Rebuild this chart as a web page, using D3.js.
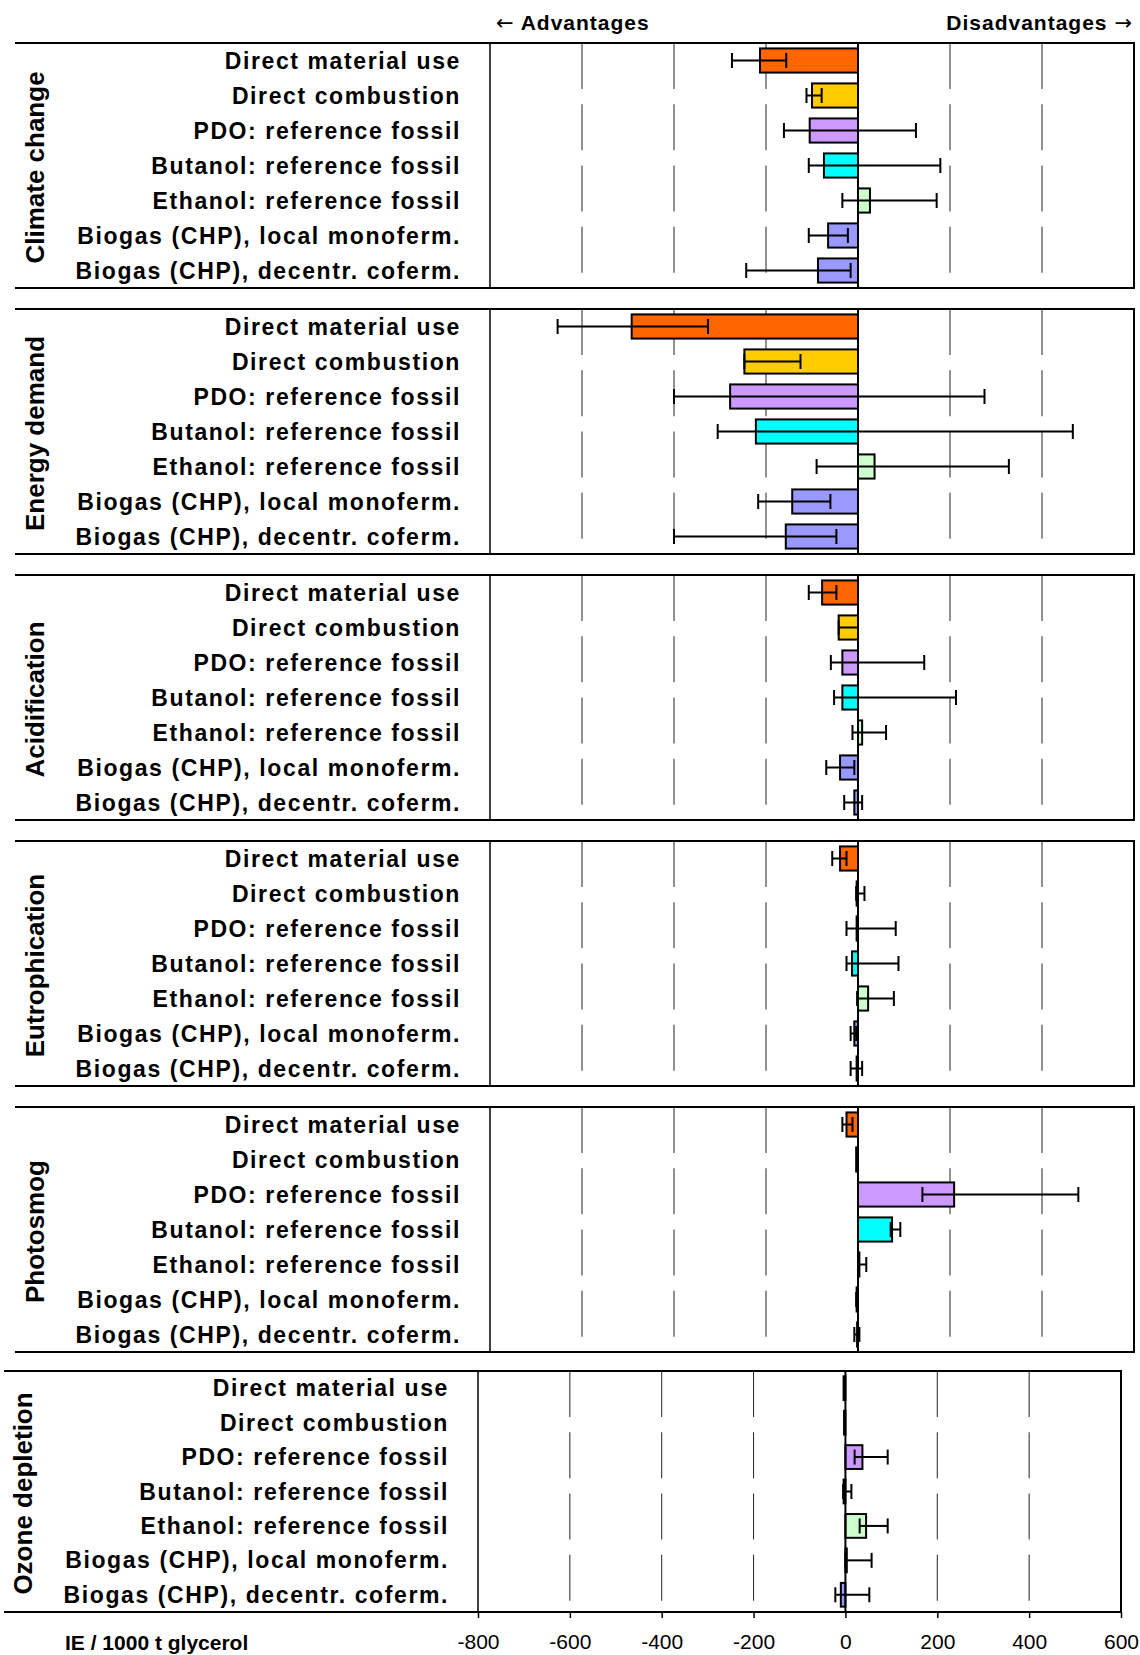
<!DOCTYPE html>
<html>
<head>
<meta charset="utf-8">
<script src="https://cdn.jsdelivr.net/npm/d3@7"></script>
<style>
  body { margin: 0; background: #fff; }
  svg { display: block; }
  text { font-family: "Liberation Sans", Arial, sans-serif; fill: #000; }
  .arrow { font-family: "DejaVu Sans", sans-serif; font-weight: normal; }
</style>
</head>
<body>
<svg id="chart" width="1140" height="1655"></svg>
<script>
// Scenario rows, shared by every impact panel
const categories = [
  "Direct material use",
  "Direct combustion",
  "PDO: reference fossil",
  "Butanol: reference fossil",
  "Ethanol: reference fossil",
  "Biogas (CHP), local monoferm.",
  "Biogas (CHP), decentr. coferm."
];

const impactCategories = [
  "Climate change",
  "Energy demand",
  "Acidification",
  "Eutrophication",
  "Photosmog",
  "Ozone depletion"
];

// Inhabitant equivalents per 1000 t glycerol, with uncertainty range (low / high)
const climateChange = [-213, -100, -105, -74, 26, -65, -87];
const climateLow    = [-274, -112, -161, -107, -34, -107, -243];
const climateHigh   = [-156, -79, 126, 179, 171, -22, -16];

const energyDemand = [-492, -247, -278, -222, 36, -143, -157];
const energyLow    = [-653, -247, -400, -305, -90, -217, -400];
const energyHigh   = [-326, -125, 275, 467, 328, -60, -47];

const acidification = [-78, -42, -34, -34, 9, -39, -8];
const acidLow       = [-107, -42, -59, -52, -12, -69, -30];
const acidHigh      = [-47, 0, 144, 213, 61, -8, 9];

const eutrophication = [-39, -3, -3, -13, 22, -8, -3];
const eutroLow       = [-56, -4, -25, -25, -2, -16, -16];
const eutroHigh      = [-25, 14, 82, 88, 78, -4, 9];

const photosmog = [-25, -4, 209, 74, 3, -3, -2];
const smogLow   = [-34, null, 140, 71, 2, -4, -8];
const smogHigh  = [-12, null, 479, 92, 18, -2, 3];

const ozoneDepletion = [-4, -3, 37, -4, 45, 3, -10];
const ozoneLow       = [null, null, 20, -5, 31, 0, -22];
const ozoneHigh      = [null, null, 92, 13, 92, 57, 52];

const barColors = ["#FF6600", "#FFCC00", "#CC99FF", "#00FFFF", "#CCFFCC", "#9999FF", "#9999FF"];
const tickValues = [-800, -600, -400, -200, 0, 200, 400, 600];

const panelData = [
  { values: climateChange, low: climateLow, high: climateHigh },
  { values: energyDemand, low: energyLow, high: energyHigh },
  { values: acidification, low: acidLow, high: acidHigh },
  { values: eutrophication, low: eutroLow, high: eutroHigh },
  { values: photosmog, low: smogLow, high: smogHigh },
  { values: ozoneDepletion, low: ozoneLow, high: ozoneHigh }
];

// Panel geometry
const frames = impactCategories.map((name, i) => i < 5
  ? { top: 43 + 266 * i, height: 245, frameLeft: 15, plotLeft: 490, plotRight: 1134, titleX: 44 }
  : { top: 1371, height: 241, frameLeft: 4, plotLeft: 478, plotRight: 1121, titleX: 31.5 });

const svg = d3.select("#chart");

// Direction header
const adv = svg.append("text")
  .attr("x", 496).attr("y", 29.5)
  .style("font-size", "21px").style("font-weight", "bold").style("letter-spacing", "1px");
adv.append("tspan").attr("class", "arrow").text("\u2190");
adv.append("tspan").text(" Advantages");

const dis = svg.append("text")
  .attr("x", 1133).attr("y", 29.5).attr("text-anchor", "end")
  .style("font-size", "21px").style("font-weight", "bold").style("letter-spacing", "1px");
dis.append("tspan").text("Disadvantages ");
dis.append("tspan").attr("class", "arrow").text("\u2192");

let lastX = null;

impactCategories.forEach((name, i) => {
  const f = frames[i];
  const d = panelData[i];
  const g = svg.append("g");

  const x = d3.scaleLinear().domain([-800, 600]).range([f.plotLeft, f.plotRight]);
  const y = d3.scaleBand().domain(categories)
    .range([f.top, f.top + f.height])
    .paddingInner(0.31).paddingOuter(0.155);
  lastX = x;

  // dashed vertical gridlines
  g.selectAll(".grid")
    .data(tickValues.filter(t => t !== -800 && t !== 0 && t !== 600))
    .join("line")
    .attr("x1", t => x(t)).attr("x2", t => x(t))
    .attr("y1", f.top).attr("y2", f.top + f.height)
    .attr("stroke", "#222").attr("stroke-width", 1)
    .attr("stroke-dasharray", "46 15.25");

  // bars
  g.selectAll(".bar")
    .data(categories)
    .join("rect")
    .attr("x", (c, j) => x(Math.min(0, d.values[j])))
    .attr("y", c => y(c))
    .attr("width", (c, j) => Math.abs(x(d.values[j]) - x(0)))
    .attr("height", y.bandwidth())
    .attr("fill", (c, j) => barColors[j])
    .attr("stroke", "#000").attr("stroke-width", 2);

  // zero line
  g.append("line")
    .attr("x1", x(0)).attr("x2", x(0))
    .attr("y1", f.top).attr("y2", f.top + f.height)
    .attr("stroke", "#000").attr("stroke-width", 2);

  // uncertainty ranges
  const errRows = categories.map((c, j) => ({ c, lo: d.low[j], hi: d.high[j] }))
    .filter(r => r.lo !== null && r.hi !== null);
  const capH = 7.5;
  const eg = g.selectAll(".err").data(errRows).join("g")
    .attr("stroke", "#000").attr("stroke-width", 2);
  eg.append("line")
    .attr("x1", r => x(r.lo)).attr("x2", r => x(r.hi))
    .attr("y1", r => y(r.c) + y.bandwidth() / 2).attr("y2", r => y(r.c) + y.bandwidth() / 2);
  eg.append("line")
    .attr("x1", r => x(r.lo)).attr("x2", r => x(r.lo))
    .attr("y1", r => y(r.c) + y.bandwidth() / 2 - capH).attr("y2", r => y(r.c) + y.bandwidth() / 2 + capH);
  eg.append("line")
    .attr("x1", r => x(r.hi)).attr("x2", r => x(r.hi))
    .attr("y1", r => y(r.c) + y.bandwidth() / 2 - capH).attr("y2", r => y(r.c) + y.bandwidth() / 2 + capH);

  // frame
  g.append("line")
    .attr("x1", f.frameLeft).attr("x2", f.plotRight + 1)
    .attr("y1", f.top).attr("y2", f.top)
    .attr("stroke", "#000").attr("stroke-width", 2);
  g.append("line")
    .attr("x1", f.frameLeft).attr("x2", f.plotRight + 1)
    .attr("y1", f.top + f.height).attr("y2", f.top + f.height)
    .attr("stroke", "#000").attr("stroke-width", 2);
  g.append("line")
    .attr("x1", f.plotRight).attr("x2", f.plotRight)
    .attr("y1", f.top).attr("y2", f.top + f.height)
    .attr("stroke", "#000").attr("stroke-width", 2);
  g.append("line")
    .attr("x1", f.plotLeft).attr("x2", f.plotLeft)
    .attr("y1", f.top).attr("y2", f.top + f.height)
    .attr("stroke", "#000").attr("stroke-width", 1.5);

  // row labels
  g.selectAll(".label")
    .data(categories)
    .join("text")
    .attr("x", f.plotLeft - 29)
    .attr("y", c => y(c) + y.bandwidth() / 2 + 8)
    .attr("text-anchor", "end")
    .style("font-size", "23px").style("font-weight", "bold").style("letter-spacing", "1.6px")
    .text(c => c);

  // impact category title
  g.append("text")
    .attr("transform", `translate(${f.titleX},${f.top + f.height / 2 + 2}) rotate(-90)`)
    .attr("text-anchor", "middle")
    .style("font-size", "26px").style("font-weight", "bold")
    .text(name);
});

// value axis under the last panel
const lastFrame = frames[frames.length - 1];
const axis = svg.append("g")
  .attr("transform", `translate(0,${lastFrame.top + lastFrame.height})`)
  .call(d3.axisBottom(lastX).tickValues(tickValues).tickSize(6).tickPadding(16).tickFormat(v => String(v)));
axis.select(".domain").remove();
axis.selectAll(".tick line").attr("stroke", "#000").attr("stroke-width", 1.5);
axis.selectAll(".tick text")
  .style("font-family", '"Liberation Sans", Arial, sans-serif')
  .style("font-size", "21px").attr("fill", "#000");

svg.append("text")
  .attr("x", 65).attr("y", lastFrame.top + lastFrame.height + 38)
  .style("font-size", "21px").style("font-weight", "bold")
  .text("IE / 1000 t glycerol");
</script>
</body>
</html>
